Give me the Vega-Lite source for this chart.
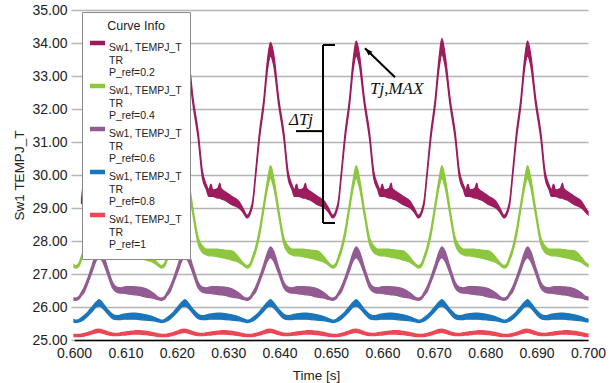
{
"$schema": "https://vega.github.io/schema/vega-lite/v6.json",
"width": 514, "height": 330,
"autosize": {"type": "none"},
"padding": {"left": 74, "top": 10, "right": 28, "bottom": 43},
"background": "white",
"config": {
 "view": {"stroke": null},
 "font": "Liberation Sans",
 "axisX": {"labelFont": "Liberation Sans", "labelFontSize": 14, "labelColor": "#222", "ticks": false, "labelPadding": 6, "labelFlush": false, "domainColor": "#000", "domainWidth": 1.5, "grid": false, "titleFont": "Liberation Sans", "titleFontSize": 13.5, "titleFontWeight": "normal", "titleColor": "#222", "titlePadding": 8, "titleX": 242, "zindex": 1},
 "axisY": {"labelFont": "Liberation Sans", "labelFontSize": 14, "labelColor": "#222", "tickSize": 3, "tickColor": "#b4b4b4", "tickWidth": 1.5, "domain": false, "grid": true, "gridColor": "#b4b4b4", "gridWidth": 1.5, "labelPadding": 4, "titleFont": "Liberation Sans", "titleFontSize": 13.5, "titleFontWeight": "normal", "titleColor": "#222", "titlePadding": 5}
},
"datasets": {
"main": [
{"t":0.6,"g0":27.2,"g1":27.28,"p0":26.21,"p1":26.28,"b0":25.54,"b1":25.62,"r0":25.1,"r1":25.17},
{"t":0.60035,"g0":27.18,"g1":27.25,"p0":26.20,"p1":26.27,"b0":25.53,"b1":25.60,"r0":25.10,"r1":25.17},
{"t":0.60101,"g0":27.25,"g1":27.35,"p0":26.25,"p1":26.33,"b0":25.55,"b1":25.63,"r0":25.10,"r1":25.17},
{"t":0.60146,"m0":29.12,"m1":29.25,"g0":27.42,"g1":27.55,"p0":26.35,"p1":26.45,"b0":25.58,"b1":25.68,"r0":25.11,"r1":25.18},
{"t":0.60198,"m0":29.90,"m1":30.05,"g0":27.65,"g1":27.80,"p0":26.45,"p1":26.60,"b0":25.63,"b1":25.74,"r0":25.12,"r1":25.20},
{"t":0.60276,"m0":31.10,"m1":31.30,"g0":28.15,"g1":28.35,"p0":26.75,"p1":26.90,"b0":25.74,"b1":25.86,"r0":25.15,"r1":25.23},
{"t":0.60360,"m0":32.10,"m1":32.30,"g0":28.95,"g1":29.15,"p0":27.10,"p1":27.30,"b0":25.88,"b1":26.02,"r0":25.19,"r1":25.28},
{"t":0.60432,"m0":33.20,"m1":33.50,"g0":29.60,"g1":29.85,"p0":27.40,"p1":27.65,"b0":26.00,"b1":26.15,"r0":25.22,"r1":25.32},
{"t":0.60490,"m0":33.60,"m1":34.05,"g0":29.90,"g1":30.28,"p0":27.50,"p1":27.82,"b0":26.03,"b1":26.22,"r0":25.23,"r1":25.33},
{"t":0.60548,"m0":33.35,"m1":33.70,"g0":29.65,"g1":29.95,"p0":27.40,"p1":27.70,"b0":25.98,"b1":26.14,"r0":25.21,"r1":25.31},
{"t":0.60651,"m0":32.10,"m1":32.30,"g0":28.75,"g1":28.95,"p0":27.00,"p1":27.20,"b0":25.80,"b1":25.93,"r0":25.16,"r1":25.25},
{"t":0.60749,"m0":31.10,"m1":31.30,"g0":27.90,"g1":28.10,"p0":26.58,"p1":26.75,"b0":25.65,"b1":25.78,"r0":25.13,"r1":25.21},
{"t":0.60832,"m0":29.90,"m1":30.10,"g0":27.65,"g1":27.85,"p0":26.45,"p1":26.60,"b0":25.62,"b1":25.74,"r0":25.13,"r1":25.20},
{"t":0.60910,"m0":29.55,"m1":29.70,"g0":27.58,"g1":27.75,"p0":26.42,"p1":26.58,"b0":25.62,"b1":25.76,"r0":25.14,"r1":25.22},
{"t":0.60957,"m0":29.35,"m1":29.55,"g0":27.55,"g1":27.75,"p0":26.42,"p1":26.60,"b0":25.63,"b1":25.78,"r0":25.15,"r1":25.23},
{"t":0.60996,"m0":29.35,"m1":29.72,"g0":27.55,"g1":27.75,"p0":26.41,"p1":26.61,"b0":25.63,"b1":25.79,"r0":25.15,"r1":25.24},
{"t":0.61035,"m0":29.35,"m1":29.55,"g0":27.55,"g1":27.75,"p0":26.40,"p1":26.62,"b0":25.63,"b1":25.80,"r0":25.16,"r1":25.25},
{"t":0.61132,"m0":29.30,"m1":29.60,"g0":27.52,"g1":27.75,"p0":26.38,"p1":26.62,"b0":25.63,"b1":25.81,"r0":25.18,"r1":25.27},
{"t":0.61171,"m0":29.30,"m1":29.75,"g0":27.51,"g1":27.74,"p0":26.37,"p1":26.61,"b0":25.63,"b1":25.81,"r0":25.18,"r1":25.27},
{"t":0.61190,"m0":29.28,"m1":29.60,"g0":27.50,"g1":27.74,"p0":26.37,"p1":26.61,"b0":25.63,"b1":25.81,"r0":25.18,"r1":25.28},
{"t":0.61268,"m0":29.24,"m1":29.50,"g0":27.48,"g1":27.72,"p0":26.35,"p1":26.60,"b0":25.62,"b1":25.80,"r0":25.18,"r1":25.28},
{"t":0.61404,"m0":29.10,"m1":29.35,"g0":27.42,"g1":27.70,"p0":26.30,"p1":26.55,"b0":25.60,"b1":25.76,"r0":25.16,"r1":25.26},
{"t":0.61541,"m0":29.00,"m1":29.20,"g0":27.35,"g1":27.50,"p0":26.27,"p1":26.42,"b0":25.58,"b1":25.70,"r0":25.13,"r1":25.22},
{"t":0.61618,"m0":28.88,"m1":29.00,"g0":27.27,"g1":27.35,"p0":26.23,"p1":26.32,"b0":25.56,"b1":25.65,"r0":25.11,"r1":25.19},
{"t":0.61702,"m0":28.70,"m1":28.78,"g0":27.18,"g1":27.25,"p0":26.20,"p1":26.27,"b0":25.53,"b1":25.60,"r0":25.10,"r1":25.17},
{"t":0.61768,"m0":28.85,"m1":28.95,"g0":27.25,"g1":27.35,"p0":26.25,"p1":26.33,"b0":25.55,"b1":25.63,"r0":25.10,"r1":25.17},
{"t":0.61813,"m0":29.12,"m1":29.25,"g0":27.42,"g1":27.55,"p0":26.35,"p1":26.45,"b0":25.58,"b1":25.68,"r0":25.11,"r1":25.18},
{"t":0.61865,"m0":29.90,"m1":30.05,"g0":27.65,"g1":27.80,"p0":26.45,"p1":26.60,"b0":25.63,"b1":25.74,"r0":25.12,"r1":25.20},
{"t":0.61943,"m0":31.10,"m1":31.30,"g0":28.15,"g1":28.35,"p0":26.75,"p1":26.90,"b0":25.74,"b1":25.86,"r0":25.15,"r1":25.23},
{"t":0.62027,"m0":32.10,"m1":32.30,"g0":28.95,"g1":29.15,"p0":27.10,"p1":27.30,"b0":25.88,"b1":26.02,"r0":25.19,"r1":25.28},
{"t":0.62099,"m0":33.20,"m1":33.50,"g0":29.60,"g1":29.85,"p0":27.40,"p1":27.65,"b0":26.00,"b1":26.15,"r0":25.22,"r1":25.32},
{"t":0.62157,"m0":33.60,"m1":34.00,"g0":29.90,"g1":30.28,"p0":27.50,"p1":27.82,"b0":26.03,"b1":26.22,"r0":25.23,"r1":25.33},
{"t":0.62215,"m0":33.35,"m1":33.70,"g0":29.65,"g1":29.95,"p0":27.40,"p1":27.70,"b0":25.98,"b1":26.14,"r0":25.21,"r1":25.31},
{"t":0.62318,"m0":32.10,"m1":32.30,"g0":28.75,"g1":28.95,"p0":27.00,"p1":27.20,"b0":25.80,"b1":25.93,"r0":25.16,"r1":25.25},
{"t":0.62416,"m0":31.10,"m1":31.30,"g0":27.90,"g1":28.10,"p0":26.58,"p1":26.75,"b0":25.65,"b1":25.78,"r0":25.13,"r1":25.21},
{"t":0.62499,"m0":29.90,"m1":30.10,"g0":27.65,"g1":27.85,"p0":26.45,"p1":26.60,"b0":25.62,"b1":25.74,"r0":25.13,"r1":25.20},
{"t":0.62577,"m0":29.55,"m1":29.70,"g0":27.58,"g1":27.75,"p0":26.42,"p1":26.58,"b0":25.62,"b1":25.76,"r0":25.14,"r1":25.22},
{"t":0.62624,"m0":29.35,"m1":29.55,"g0":27.55,"g1":27.75,"p0":26.42,"p1":26.60,"b0":25.63,"b1":25.78,"r0":25.15,"r1":25.23},
{"t":0.62663,"m0":29.35,"m1":29.72,"g0":27.55,"g1":27.75,"p0":26.41,"p1":26.61,"b0":25.63,"b1":25.79,"r0":25.15,"r1":25.24},
{"t":0.62702,"m0":29.35,"m1":29.55,"g0":27.55,"g1":27.75,"p0":26.40,"p1":26.62,"b0":25.63,"b1":25.80,"r0":25.16,"r1":25.25},
{"t":0.62799,"m0":29.30,"m1":29.60,"g0":27.52,"g1":27.75,"p0":26.38,"p1":26.62,"b0":25.63,"b1":25.81,"r0":25.18,"r1":25.27},
{"t":0.62838,"m0":29.30,"m1":29.75,"g0":27.51,"g1":27.74,"p0":26.37,"p1":26.61,"b0":25.63,"b1":25.81,"r0":25.18,"r1":25.27},
{"t":0.62857,"m0":29.28,"m1":29.60,"g0":27.50,"g1":27.74,"p0":26.37,"p1":26.61,"b0":25.63,"b1":25.81,"r0":25.18,"r1":25.28},
{"t":0.62935,"m0":29.24,"m1":29.50,"g0":27.48,"g1":27.72,"p0":26.35,"p1":26.60,"b0":25.62,"b1":25.80,"r0":25.18,"r1":25.28},
{"t":0.63071,"m0":29.10,"m1":29.35,"g0":27.42,"g1":27.70,"p0":26.30,"p1":26.55,"b0":25.60,"b1":25.76,"r0":25.16,"r1":25.26},
{"t":0.63208,"m0":29.00,"m1":29.20,"g0":27.35,"g1":27.50,"p0":26.27,"p1":26.42,"b0":25.58,"b1":25.70,"r0":25.13,"r1":25.22},
{"t":0.63285,"m0":28.88,"m1":29.00,"g0":27.27,"g1":27.35,"p0":26.23,"p1":26.32,"b0":25.56,"b1":25.65,"r0":25.11,"r1":25.19},
{"t":0.63368,"m0":28.70,"m1":28.78,"g0":27.18,"g1":27.25,"p0":26.20,"p1":26.27,"b0":25.53,"b1":25.60,"r0":25.10,"r1":25.17},
{"t":0.63434,"m0":28.85,"m1":28.95,"g0":27.25,"g1":27.35,"p0":26.25,"p1":26.33,"b0":25.55,"b1":25.63,"r0":25.10,"r1":25.17},
{"t":0.63479,"m0":29.12,"m1":29.25,"g0":27.42,"g1":27.55,"p0":26.35,"p1":26.45,"b0":25.58,"b1":25.68,"r0":25.11,"r1":25.18},
{"t":0.63531,"m0":29.90,"m1":30.05,"g0":27.65,"g1":27.80,"p0":26.45,"p1":26.60,"b0":25.63,"b1":25.74,"r0":25.12,"r1":25.20},
{"t":0.63609,"m0":31.10,"m1":31.30,"g0":28.15,"g1":28.35,"p0":26.75,"p1":26.90,"b0":25.74,"b1":25.86,"r0":25.15,"r1":25.23},
{"t":0.63693,"m0":32.10,"m1":32.30,"g0":28.95,"g1":29.15,"p0":27.10,"p1":27.30,"b0":25.88,"b1":26.02,"r0":25.19,"r1":25.28},
{"t":0.63765,"m0":33.20,"m1":33.50,"g0":29.60,"g1":29.85,"p0":27.40,"p1":27.65,"b0":26.00,"b1":26.15,"r0":25.22,"r1":25.32},
{"t":0.63823,"m0":33.60,"m1":34.02,"g0":29.90,"g1":30.28,"p0":27.50,"p1":27.82,"b0":26.03,"b1":26.22,"r0":25.23,"r1":25.33},
{"t":0.63881,"m0":33.35,"m1":33.70,"g0":29.65,"g1":29.95,"p0":27.40,"p1":27.70,"b0":25.98,"b1":26.14,"r0":25.21,"r1":25.31},
{"t":0.63984,"m0":32.10,"m1":32.30,"g0":28.75,"g1":28.95,"p0":27.00,"p1":27.20,"b0":25.80,"b1":25.93,"r0":25.16,"r1":25.25},
{"t":0.64082,"m0":31.10,"m1":31.30,"g0":27.90,"g1":28.10,"p0":26.58,"p1":26.75,"b0":25.65,"b1":25.78,"r0":25.13,"r1":25.21},
{"t":0.64165,"m0":29.90,"m1":30.10,"g0":27.65,"g1":27.85,"p0":26.45,"p1":26.60,"b0":25.62,"b1":25.74,"r0":25.13,"r1":25.20},
{"t":0.64243,"m0":29.55,"m1":29.70,"g0":27.58,"g1":27.75,"p0":26.42,"p1":26.58,"b0":25.62,"b1":25.76,"r0":25.14,"r1":25.22},
{"t":0.64290,"m0":29.35,"m1":29.55,"g0":27.55,"g1":27.75,"p0":26.42,"p1":26.60,"b0":25.63,"b1":25.78,"r0":25.15,"r1":25.23},
{"t":0.64329,"m0":29.35,"m1":29.72,"g0":27.55,"g1":27.75,"p0":26.41,"p1":26.61,"b0":25.63,"b1":25.79,"r0":25.15,"r1":25.24},
{"t":0.64368,"m0":29.35,"m1":29.55,"g0":27.55,"g1":27.75,"p0":26.40,"p1":26.62,"b0":25.63,"b1":25.80,"r0":25.16,"r1":25.25},
{"t":0.64465,"m0":29.30,"m1":29.60,"g0":27.52,"g1":27.75,"p0":26.38,"p1":26.62,"b0":25.63,"b1":25.81,"r0":25.18,"r1":25.27},
{"t":0.64504,"m0":29.30,"m1":29.75,"g0":27.51,"g1":27.74,"p0":26.37,"p1":26.61,"b0":25.63,"b1":25.81,"r0":25.18,"r1":25.27},
{"t":0.64523,"m0":29.28,"m1":29.60,"g0":27.50,"g1":27.74,"p0":26.37,"p1":26.61,"b0":25.63,"b1":25.81,"r0":25.18,"r1":25.28},
{"t":0.64601,"m0":29.24,"m1":29.50,"g0":27.48,"g1":27.72,"p0":26.35,"p1":26.60,"b0":25.62,"b1":25.80,"r0":25.18,"r1":25.28},
{"t":0.64737,"m0":29.10,"m1":29.35,"g0":27.42,"g1":27.70,"p0":26.30,"p1":26.55,"b0":25.60,"b1":25.76,"r0":25.16,"r1":25.26},
{"t":0.64874,"m0":29.00,"m1":29.20,"g0":27.35,"g1":27.50,"p0":26.27,"p1":26.42,"b0":25.58,"b1":25.70,"r0":25.13,"r1":25.22},
{"t":0.64951,"m0":28.88,"m1":29.00,"g0":27.27,"g1":27.35,"p0":26.23,"p1":26.32,"b0":25.56,"b1":25.65,"r0":25.11,"r1":25.19},
{"t":0.65035,"m0":28.70,"m1":28.78,"g0":27.18,"g1":27.25,"p0":26.20,"p1":26.27,"b0":25.53,"b1":25.60,"r0":25.10,"r1":25.17},
{"t":0.65101,"m0":28.85,"m1":28.95,"g0":27.25,"g1":27.35,"p0":26.25,"p1":26.33,"b0":25.55,"b1":25.63,"r0":25.10,"r1":25.17},
{"t":0.65146,"m0":29.12,"m1":29.25,"g0":27.42,"g1":27.55,"p0":26.35,"p1":26.45,"b0":25.58,"b1":25.68,"r0":25.11,"r1":25.18},
{"t":0.65198,"m0":29.90,"m1":30.05,"g0":27.65,"g1":27.80,"p0":26.45,"p1":26.60,"b0":25.63,"b1":25.74,"r0":25.12,"r1":25.20},
{"t":0.65276,"m0":31.10,"m1":31.30,"g0":28.15,"g1":28.35,"p0":26.75,"p1":26.90,"b0":25.74,"b1":25.86,"r0":25.15,"r1":25.23},
{"t":0.65360,"m0":32.10,"m1":32.30,"g0":28.95,"g1":29.15,"p0":27.10,"p1":27.30,"b0":25.88,"b1":26.02,"r0":25.19,"r1":25.28},
{"t":0.65432,"m0":33.20,"m1":33.50,"g0":29.60,"g1":29.85,"p0":27.40,"p1":27.65,"b0":26.00,"b1":26.15,"r0":25.22,"r1":25.32},
{"t":0.65490,"m0":33.60,"m1":34.06,"g0":29.90,"g1":30.28,"p0":27.50,"p1":27.82,"b0":26.03,"b1":26.22,"r0":25.23,"r1":25.33},
{"t":0.65548,"m0":33.35,"m1":33.70,"g0":29.65,"g1":29.95,"p0":27.40,"p1":27.70,"b0":25.98,"b1":26.14,"r0":25.21,"r1":25.31},
{"t":0.65651,"m0":32.10,"m1":32.30,"g0":28.75,"g1":28.95,"p0":27.00,"p1":27.20,"b0":25.80,"b1":25.93,"r0":25.16,"r1":25.25},
{"t":0.65749,"m0":31.10,"m1":31.30,"g0":27.90,"g1":28.10,"p0":26.58,"p1":26.75,"b0":25.65,"b1":25.78,"r0":25.13,"r1":25.21},
{"t":0.65832,"m0":29.90,"m1":30.10,"g0":27.65,"g1":27.85,"p0":26.45,"p1":26.60,"b0":25.62,"b1":25.74,"r0":25.13,"r1":25.20},
{"t":0.65910,"m0":29.55,"m1":29.70,"g0":27.58,"g1":27.75,"p0":26.42,"p1":26.58,"b0":25.62,"b1":25.76,"r0":25.14,"r1":25.22},
{"t":0.65957,"m0":29.35,"m1":29.55,"g0":27.55,"g1":27.75,"p0":26.42,"p1":26.60,"b0":25.63,"b1":25.78,"r0":25.15,"r1":25.23},
{"t":0.65996,"m0":29.35,"m1":29.72,"g0":27.55,"g1":27.75,"p0":26.41,"p1":26.61,"b0":25.63,"b1":25.79,"r0":25.15,"r1":25.24},
{"t":0.66035,"m0":29.35,"m1":29.55,"g0":27.55,"g1":27.75,"p0":26.40,"p1":26.62,"b0":25.63,"b1":25.80,"r0":25.16,"r1":25.25},
{"t":0.66132,"m0":29.30,"m1":29.60,"g0":27.52,"g1":27.75,"p0":26.38,"p1":26.62,"b0":25.63,"b1":25.81,"r0":25.18,"r1":25.27},
{"t":0.66171,"m0":29.30,"m1":29.75,"g0":27.51,"g1":27.74,"p0":26.37,"p1":26.61,"b0":25.63,"b1":25.81,"r0":25.18,"r1":25.27},
{"t":0.66190,"m0":29.28,"m1":29.60,"g0":27.50,"g1":27.74,"p0":26.37,"p1":26.61,"b0":25.63,"b1":25.81,"r0":25.18,"r1":25.28},
{"t":0.66268,"m0":29.24,"m1":29.50,"g0":27.48,"g1":27.72,"p0":26.35,"p1":26.60,"b0":25.62,"b1":25.80,"r0":25.18,"r1":25.28},
{"t":0.66404,"m0":29.10,"m1":29.35,"g0":27.42,"g1":27.70,"p0":26.30,"p1":26.55,"b0":25.60,"b1":25.76,"r0":25.16,"r1":25.26},
{"t":0.66541,"m0":29.00,"m1":29.20,"g0":27.35,"g1":27.50,"p0":26.27,"p1":26.42,"b0":25.58,"b1":25.70,"r0":25.13,"r1":25.22},
{"t":0.66618,"m0":28.88,"m1":29.00,"g0":27.27,"g1":27.35,"p0":26.23,"p1":26.32,"b0":25.56,"b1":25.65,"r0":25.11,"r1":25.19},
{"t":0.66702,"m0":28.70,"m1":28.78,"g0":27.18,"g1":27.25,"p0":26.20,"p1":26.27,"b0":25.53,"b1":25.60,"r0":25.10,"r1":25.17},
{"t":0.66768,"m0":28.85,"m1":28.95,"g0":27.25,"g1":27.35,"p0":26.25,"p1":26.33,"b0":25.55,"b1":25.63,"r0":25.10,"r1":25.17},
{"t":0.66813,"m0":29.12,"m1":29.25,"g0":27.42,"g1":27.55,"p0":26.35,"p1":26.45,"b0":25.58,"b1":25.68,"r0":25.11,"r1":25.18},
{"t":0.66865,"m0":29.90,"m1":30.05,"g0":27.65,"g1":27.80,"p0":26.45,"p1":26.60,"b0":25.63,"b1":25.74,"r0":25.12,"r1":25.20},
{"t":0.66943,"m0":31.10,"m1":31.30,"g0":28.15,"g1":28.35,"p0":26.75,"p1":26.90,"b0":25.74,"b1":25.86,"r0":25.15,"r1":25.23},
{"t":0.67027,"m0":32.10,"m1":32.30,"g0":28.95,"g1":29.15,"p0":27.10,"p1":27.30,"b0":25.88,"b1":26.02,"r0":25.19,"r1":25.28},
{"t":0.67099,"m0":33.20,"m1":33.50,"g0":29.60,"g1":29.85,"p0":27.40,"p1":27.65,"b0":26.00,"b1":26.15,"r0":25.22,"r1":25.32},
{"t":0.67157,"m0":33.65,"m1":34.14,"g0":29.90,"g1":30.28,"p0":27.50,"p1":27.82,"b0":26.03,"b1":26.22,"r0":25.23,"r1":25.33},
{"t":0.67215,"m0":33.35,"m1":33.70,"g0":29.65,"g1":29.95,"p0":27.40,"p1":27.70,"b0":25.98,"b1":26.14,"r0":25.21,"r1":25.31},
{"t":0.67318,"m0":32.10,"m1":32.30,"g0":28.75,"g1":28.95,"p0":27.00,"p1":27.20,"b0":25.80,"b1":25.93,"r0":25.16,"r1":25.25},
{"t":0.67416,"m0":31.10,"m1":31.30,"g0":27.90,"g1":28.10,"p0":26.58,"p1":26.75,"b0":25.65,"b1":25.78,"r0":25.13,"r1":25.21},
{"t":0.67499,"m0":29.90,"m1":30.10,"g0":27.65,"g1":27.85,"p0":26.45,"p1":26.60,"b0":25.62,"b1":25.74,"r0":25.13,"r1":25.20},
{"t":0.67577,"m0":29.55,"m1":29.70,"g0":27.58,"g1":27.75,"p0":26.42,"p1":26.58,"b0":25.62,"b1":25.76,"r0":25.14,"r1":25.22},
{"t":0.67624,"m0":29.35,"m1":29.55,"g0":27.55,"g1":27.75,"p0":26.42,"p1":26.60,"b0":25.63,"b1":25.78,"r0":25.15,"r1":25.23},
{"t":0.67663,"m0":29.35,"m1":29.72,"g0":27.55,"g1":27.75,"p0":26.41,"p1":26.61,"b0":25.63,"b1":25.79,"r0":25.15,"r1":25.24},
{"t":0.67702,"m0":29.35,"m1":29.55,"g0":27.55,"g1":27.75,"p0":26.40,"p1":26.62,"b0":25.63,"b1":25.80,"r0":25.16,"r1":25.25},
{"t":0.67799,"m0":29.30,"m1":29.60,"g0":27.52,"g1":27.75,"p0":26.38,"p1":26.62,"b0":25.63,"b1":25.81,"r0":25.18,"r1":25.27},
{"t":0.67838,"m0":29.30,"m1":29.75,"g0":27.51,"g1":27.74,"p0":26.37,"p1":26.61,"b0":25.63,"b1":25.81,"r0":25.18,"r1":25.27},
{"t":0.67857,"m0":29.28,"m1":29.60,"g0":27.50,"g1":27.74,"p0":26.37,"p1":26.61,"b0":25.63,"b1":25.81,"r0":25.18,"r1":25.28},
{"t":0.67935,"m0":29.24,"m1":29.50,"g0":27.48,"g1":27.72,"p0":26.35,"p1":26.60,"b0":25.62,"b1":25.80,"r0":25.18,"r1":25.28},
{"t":0.68071,"m0":29.10,"m1":29.35,"g0":27.42,"g1":27.70,"p0":26.30,"p1":26.55,"b0":25.60,"b1":25.76,"r0":25.16,"r1":25.26},
{"t":0.68208,"m0":29.00,"m1":29.20,"g0":27.35,"g1":27.50,"p0":26.27,"p1":26.42,"b0":25.58,"b1":25.70,"r0":25.13,"r1":25.22},
{"t":0.68285,"m0":28.88,"m1":29.00,"g0":27.27,"g1":27.35,"p0":26.23,"p1":26.32,"b0":25.56,"b1":25.65,"r0":25.11,"r1":25.19},
{"t":0.68368,"m0":28.70,"m1":28.78,"g0":27.18,"g1":27.25,"p0":26.20,"p1":26.27,"b0":25.53,"b1":25.60,"r0":25.10,"r1":25.17},
{"t":0.68434,"m0":28.85,"m1":28.95,"g0":27.25,"g1":27.35,"p0":26.25,"p1":26.33,"b0":25.55,"b1":25.63,"r0":25.10,"r1":25.17},
{"t":0.68479,"m0":29.12,"m1":29.25,"g0":27.42,"g1":27.55,"p0":26.35,"p1":26.45,"b0":25.58,"b1":25.68,"r0":25.11,"r1":25.18},
{"t":0.68531,"m0":29.90,"m1":30.05,"g0":27.65,"g1":27.80,"p0":26.45,"p1":26.60,"b0":25.63,"b1":25.74,"r0":25.12,"r1":25.20},
{"t":0.68609,"m0":31.10,"m1":31.30,"g0":28.15,"g1":28.35,"p0":26.75,"p1":26.90,"b0":25.74,"b1":25.86,"r0":25.15,"r1":25.23},
{"t":0.68693,"m0":32.10,"m1":32.30,"g0":28.95,"g1":29.15,"p0":27.10,"p1":27.30,"b0":25.88,"b1":26.02,"r0":25.19,"r1":25.28},
{"t":0.68765,"m0":33.20,"m1":33.50,"g0":29.60,"g1":29.85,"p0":27.40,"p1":27.65,"b0":26.00,"b1":26.15,"r0":25.22,"r1":25.32},
{"t":0.68823,"m0":33.60,"m1":34.06,"g0":29.90,"g1":30.28,"p0":27.50,"p1":27.82,"b0":26.03,"b1":26.22,"r0":25.23,"r1":25.33},
{"t":0.68881,"m0":33.35,"m1":33.70,"g0":29.65,"g1":29.95,"p0":27.40,"p1":27.70,"b0":25.98,"b1":26.14,"r0":25.21,"r1":25.31},
{"t":0.68984,"m0":32.10,"m1":32.30,"g0":28.75,"g1":28.95,"p0":27.00,"p1":27.20,"b0":25.80,"b1":25.93,"r0":25.16,"r1":25.25},
{"t":0.69082,"m0":31.10,"m1":31.30,"g0":27.90,"g1":28.10,"p0":26.58,"p1":26.75,"b0":25.65,"b1":25.78,"r0":25.13,"r1":25.21},
{"t":0.69165,"m0":29.90,"m1":30.10,"g0":27.65,"g1":27.85,"p0":26.45,"p1":26.60,"b0":25.62,"b1":25.74,"r0":25.13,"r1":25.20},
{"t":0.69243,"m0":29.55,"m1":29.70,"g0":27.58,"g1":27.75,"p0":26.42,"p1":26.58,"b0":25.62,"b1":25.76,"r0":25.14,"r1":25.22},
{"t":0.69290,"m0":29.35,"m1":29.55,"g0":27.55,"g1":27.75,"p0":26.42,"p1":26.60,"b0":25.63,"b1":25.78,"r0":25.15,"r1":25.23},
{"t":0.69329,"m0":29.35,"m1":29.72,"g0":27.55,"g1":27.75,"p0":26.41,"p1":26.61,"b0":25.63,"b1":25.79,"r0":25.15,"r1":25.24},
{"t":0.69368,"m0":29.35,"m1":29.55,"g0":27.55,"g1":27.75,"p0":26.40,"p1":26.62,"b0":25.63,"b1":25.80,"r0":25.16,"r1":25.25},
{"t":0.69465,"m0":29.30,"m1":29.60,"g0":27.52,"g1":27.75,"p0":26.38,"p1":26.62,"b0":25.63,"b1":25.81,"r0":25.18,"r1":25.27},
{"t":0.69504,"m0":29.30,"m1":29.75,"g0":27.51,"g1":27.74,"p0":26.37,"p1":26.61,"b0":25.63,"b1":25.81,"r0":25.18,"r1":25.27},
{"t":0.69523,"m0":29.28,"m1":29.60,"g0":27.50,"g1":27.74,"p0":26.37,"p1":26.61,"b0":25.63,"b1":25.81,"r0":25.18,"r1":25.28},
{"t":0.69601,"m0":29.24,"m1":29.50,"g0":27.48,"g1":27.72,"p0":26.35,"p1":26.60,"b0":25.62,"b1":25.80,"r0":25.18,"r1":25.28},
{"t":0.69737,"m0":29.10,"m1":29.35,"g0":27.42,"g1":27.70,"p0":26.30,"p1":26.55,"b0":25.60,"b1":25.76,"r0":25.16,"r1":25.26},
{"t":0.69874,"m0":29.00,"m1":29.20,"g0":27.35,"g1":27.50,"p0":26.27,"p1":26.42,"b0":25.58,"b1":25.70,"r0":25.13,"r1":25.22},
{"t":0.69951,"m0":28.88,"m1":29.00,"g0":27.27,"g1":27.35,"p0":26.23,"p1":26.32,"b0":25.56,"b1":25.65,"r0":25.11,"r1":25.19},
{"t":0.7,"m0":28.8,"m1":28.9,"g0":27.22,"g1":27.3,"p0":26.22,"p1":26.3,"b0":25.55,"b1":25.63,"r0":25.1,"r1":25.18}
],
"segs": [
{"t":0.64844,"v":33.94,"t2":0.64844,"v2":28.545},
{"t":0.64844,"v":33.94,"t2":0.65078,"v2":33.94},
{"t":0.64844,"v":28.545,"t2":0.65078,"v2":28.545},
{"t":0.64319,"v":31.33,"t2":0.64844,"v2":31.33},
{"t":0.66245,"v":32.96,"t2":0.65661,"v2":33.84}
],
"labs": [
{"t":0.64416,"v":31.68,"txt":"ΔTj"},
{"t":0.66278,"v":32.6,"txt":"Tj,MAX"}
],
"tip": [{"t":0.65661,"v":33.84}]
},
"encoding": {
 "x": {"field": "t", "type": "quantitative", "scale": {"domain": [0.6, 0.7], "nice": false}, "axis": {"values": [0.6,0.61,0.62,0.63,0.64,0.65,0.66,0.67,0.68,0.69,0.7], "format": ".3f"}, "title": "Time [s]"}
},
"layer": [
 {"data": {"name": "main"}, "mark": {"type": "area", "interpolate": "monotone", "stroke": "#9c1c5e", "strokeWidth": 1.3, "opacity": 1},
  "encoding": {
   "y": {"field": "m0", "type": "quantitative", "scale": {"domain": [25, 35], "nice": false}, "axis": {"values": [25,26,27,28,29,30,31,32,33,34,35], "format": ".2f"}, "title": "Sw1 TEMPJ_T"},
   "y2": {"field": "m1"},
   "color": {"datum": "Sw1, TEMPJ_T|TR|P_ref=0.2", "type": "nominal",
    "scale": {"domain": ["Sw1, TEMPJ_T|TR|P_ref=0.2", "Sw1, TEMPJ_T|TR|P_ref=0.4", "Sw1, TEMPJ_T|TR|P_ref=0.6", "Sw1, TEMPJ_T|TR|P_ref=0.8", "Sw1, TEMPJ_T|TR|P_ref=1"], "range": ["#9c1c5e", "#8dc63f", "#925b92", "#1b75bb", "#ee4653"]},
    "legend": {"title": "Curve Info", "orient": "none", "legendX": 8, "legendY": 2, "zindex": 2, "fillColor": "white", "strokeColor": "#8a8a8a", "padding": 8, "titleAnchor": "middle", "titleAlign": "center", "titleFont": "Liberation Sans", "titleFontSize": 12.5, "titleFontWeight": "normal", "titleColor": "#222", "titlePadding": 3, "labelFont": "Liberation Sans", "labelFontSize": 10.5, "labelColor": "#222", "labelLimit": 200, "labelOffset": 4, "labelBaseline": "top", "labelExpr": "split(datum.label, '|')", "symbolType": "M-1,-0.3H1V0.3H-1Z", "symbolSize": 225, "symbolStrokeWidth": 0, "symbolOpacity": 1, "rowPadding": 0,
     "encode": {"labels": {"enter": {"lineHeight": {"value": 11.5}}, "update": {"lineHeight": {"value": 11.5}}}}}}
  }},
 {"data": {"name": "main"}, "mark": {"type": "area", "interpolate": "monotone", "stroke": "#8dc63f", "strokeWidth": 1.3, "opacity": 1},
  "encoding": {
   "y": {"field": "g0", "type": "quantitative", "scale": {"domain": [25, 35], "nice": false}, "axis": {"values": [25,26,27,28,29,30,31,32,33,34,35], "format": ".2f"}, "title": "Sw1 TEMPJ_T"},
   "y2": {"field": "g1"},
   "color": {"datum": "Sw1, TEMPJ_T|TR|P_ref=0.4", "type": "nominal"}
  }},
 {"data": {"name": "main"}, "mark": {"type": "area", "interpolate": "monotone", "stroke": "#925b92", "strokeWidth": 1.3, "opacity": 1},
  "encoding": {
   "y": {"field": "p0", "type": "quantitative", "scale": {"domain": [25, 35], "nice": false}, "axis": {"values": [25,26,27,28,29,30,31,32,33,34,35], "format": ".2f"}, "title": "Sw1 TEMPJ_T"},
   "y2": {"field": "p1"},
   "color": {"datum": "Sw1, TEMPJ_T|TR|P_ref=0.6", "type": "nominal"}
  }},
 {"data": {"name": "main"}, "mark": {"type": "area", "interpolate": "monotone", "stroke": "#1b75bb", "strokeWidth": 1.3, "opacity": 1},
  "encoding": {
   "y": {"field": "b0", "type": "quantitative", "scale": {"domain": [25, 35], "nice": false}, "axis": {"values": [25,26,27,28,29,30,31,32,33,34,35], "format": ".2f"}, "title": "Sw1 TEMPJ_T"},
   "y2": {"field": "b1"},
   "color": {"datum": "Sw1, TEMPJ_T|TR|P_ref=0.8", "type": "nominal"}
  }},
 {"data": {"name": "main"}, "mark": {"type": "area", "interpolate": "monotone", "stroke": "#ee4653", "strokeWidth": 1.3, "opacity": 1},
  "encoding": {
   "y": {"field": "r0", "type": "quantitative", "scale": {"domain": [25, 35], "nice": false}, "axis": {"values": [25,26,27,28,29,30,31,32,33,34,35], "format": ".2f"}, "title": "Sw1 TEMPJ_T"},
   "y2": {"field": "r1"},
   "color": {"datum": "Sw1, TEMPJ_T|TR|P_ref=1", "type": "nominal"}
  }},
 {"data": {"name": "segs"}, "mark": {"type": "rule", "color": "#000", "strokeWidth": 2},
  "encoding": {
   "x2": {"field": "t2"},
   "y": {"field": "v", "type": "quantitative", "scale": {"domain": [25, 35], "nice": false}, "axis": {"values": [25,26,27,28,29,30,31,32,33,34,35], "format": ".2f"}, "title": "Sw1 TEMPJ_T"},
   "y2": {"field": "v2"}
  }},
 {"data": {"name": "tip"}, "mark": {"type": "point", "shape": "M0,0L0.5,1.4L-0.5,1.4Z", "filled": true, "color": "#000", "size": 121, "angle": 314, "opacity": 1},
  "encoding": {
   "y": {"field": "v", "type": "quantitative", "scale": {"domain": [25, 35], "nice": false}, "axis": {"values": [25,26,27,28,29,30,31,32,33,34,35], "format": ".2f"}, "title": "Sw1 TEMPJ_T"}
  }},
 {"data": {"name": "labs"}, "mark": {"type": "text", "font": "Liberation Serif", "fontStyle": "italic", "fontSize": 17, "color": "#111", "align": "center", "baseline": "middle"},
  "encoding": {
   "y": {"field": "v", "type": "quantitative", "scale": {"domain": [25, 35], "nice": false}, "axis": {"values": [25,26,27,28,29,30,31,32,33,34,35], "format": ".2f"}, "title": "Sw1 TEMPJ_T"},
   "text": {"field": "txt"}
  }}
]
}
